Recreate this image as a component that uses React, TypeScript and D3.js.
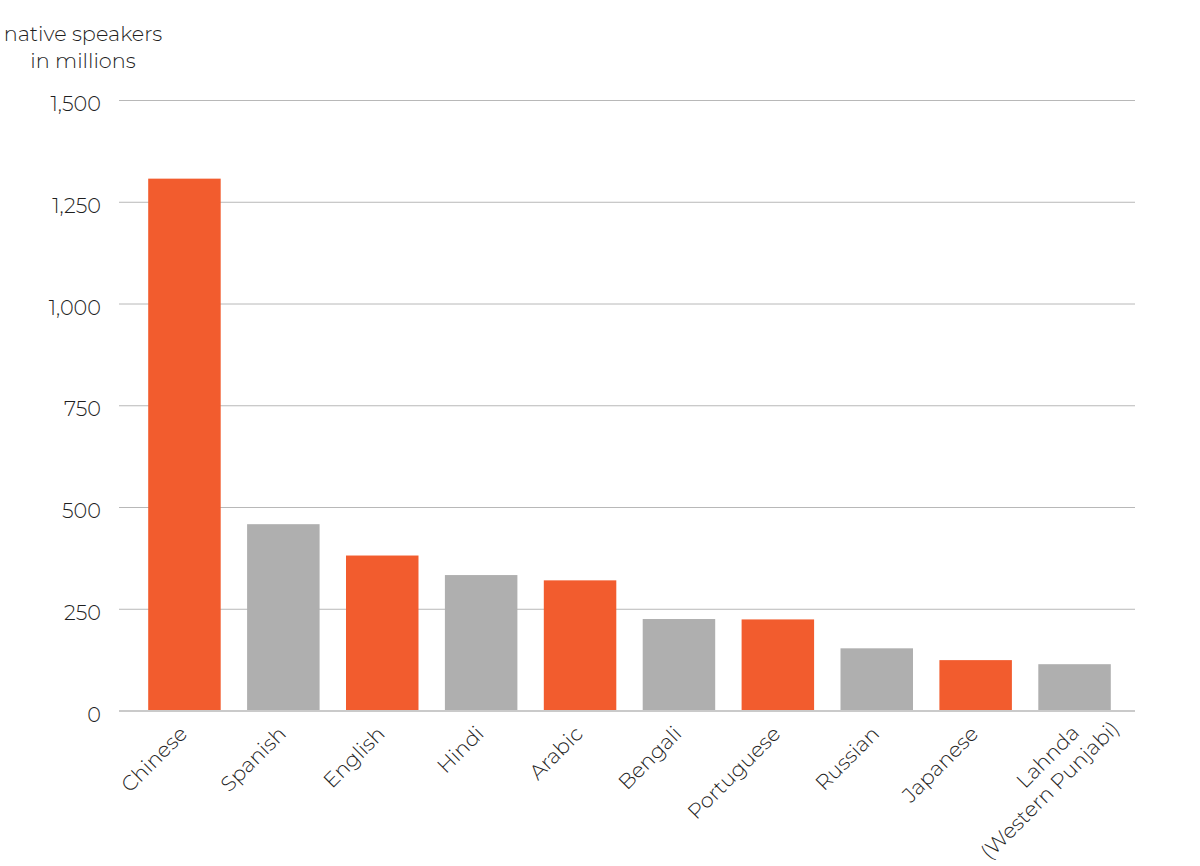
import React from 'react';
import * as d3 from 'd3';

const languages = ['Chinese', 'Spanish', 'English', 'Hindi', 'Arabic', 'Bengali', 'Portuguese', 'Russian', 'Japanese', 'Lahnda (Western Punjabi)'];
const speakers = [1308, 459, 382, 334, 321, 226, 225, 154, 125, 115];
const highlighted = ['Chinese', 'English', 'Arabic', 'Portuguese', 'Japanese'];
const yTicks = [0, 250, 500, 750, 1000, 1250, 1500];
const titleLines = ['native speakers', 'in millions'];

const ORANGE = '#f25c2e';
const GRAY = '#afafaf';
const GRID = '#b8b8b8';
const TEXT = '#1f1f1f';
const FONT = 'Montserrat, Inter, "Open Sans", sans-serif';
const FS = 20.8;

export default function App() {
  const width = 1200;
  const height = 866;
  const x = d3.scaleBand<string>().domain(languages).range([135, 1124]).paddingInner(0.267).paddingOuter(0.1335);
  const y = d3.scaleLinear().domain([0, 1500]).range([711, 100.5]);
  const fmt = d3.format(',');

  return (
    <svg width={width} height={height} style={{ position: 'absolute', left: 0, top: 0, background: '#fff' }} fontFamily={FONT}>
      {titleLines.map((t, i) => (
        <text key={t} x={83} y={41 + i * 27} textAnchor="middle" fontSize={FS} fontWeight={300} fill={TEXT}>{t}</text>
      ))}
      {yTicks.filter(t => t !== 0).map(t => (
        <line key={'g' + t} x1={119} x2={1135} y1={y(t)} y2={y(t)} stroke={GRID} strokeWidth={1} />
      ))}
      {yTicks.map(t => (
        <text key={'t' + t} x={101} y={y(t) + 10.5} textAnchor="end" fontSize={FS} fontWeight={300} fill={TEXT}>{fmt(t)}</text>
      ))}
      {languages.map((l, i) => (
        <rect key={l} x={x(l)} y={y(speakers[i])} width={x.bandwidth()} height={y(0) - y(speakers[i]) - 1}
          fill={highlighted.includes(l) ? ORANGE : GRAY} />
      ))}
      <line x1={119} x2={1135} y1={y(0)} y2={y(0)} stroke={GRID} strokeWidth={1.5} />
      {languages.map(l => {
        const cx = (x(l) as number) + x.bandwidth() / 2;
        const parts = l.split(' (');
        if (parts.length > 1) {
          return (
            <g key={'x' + l} transform={`translate(${cx + 6},734) rotate(-45)`}>
              <text x={0} y={0} textAnchor="end" fontSize={FS} fontWeight={300} fill={TEXT}>{parts[0]}</text>
              <text x={31} y={25} textAnchor="end" fontSize={FS} fontWeight={300} fill={TEXT}>{'(' + parts[1]}</text>
            </g>
          );
        }
        return (
          <g key={'x' + l} transform={`translate(${cx + 4},735) rotate(-45)`}>
            <text x={0} y={0} textAnchor="end" fontSize={FS} fontWeight={300} fill={TEXT}>{l}</text>
          </g>
        );
      })}
    </svg>
  );
}
